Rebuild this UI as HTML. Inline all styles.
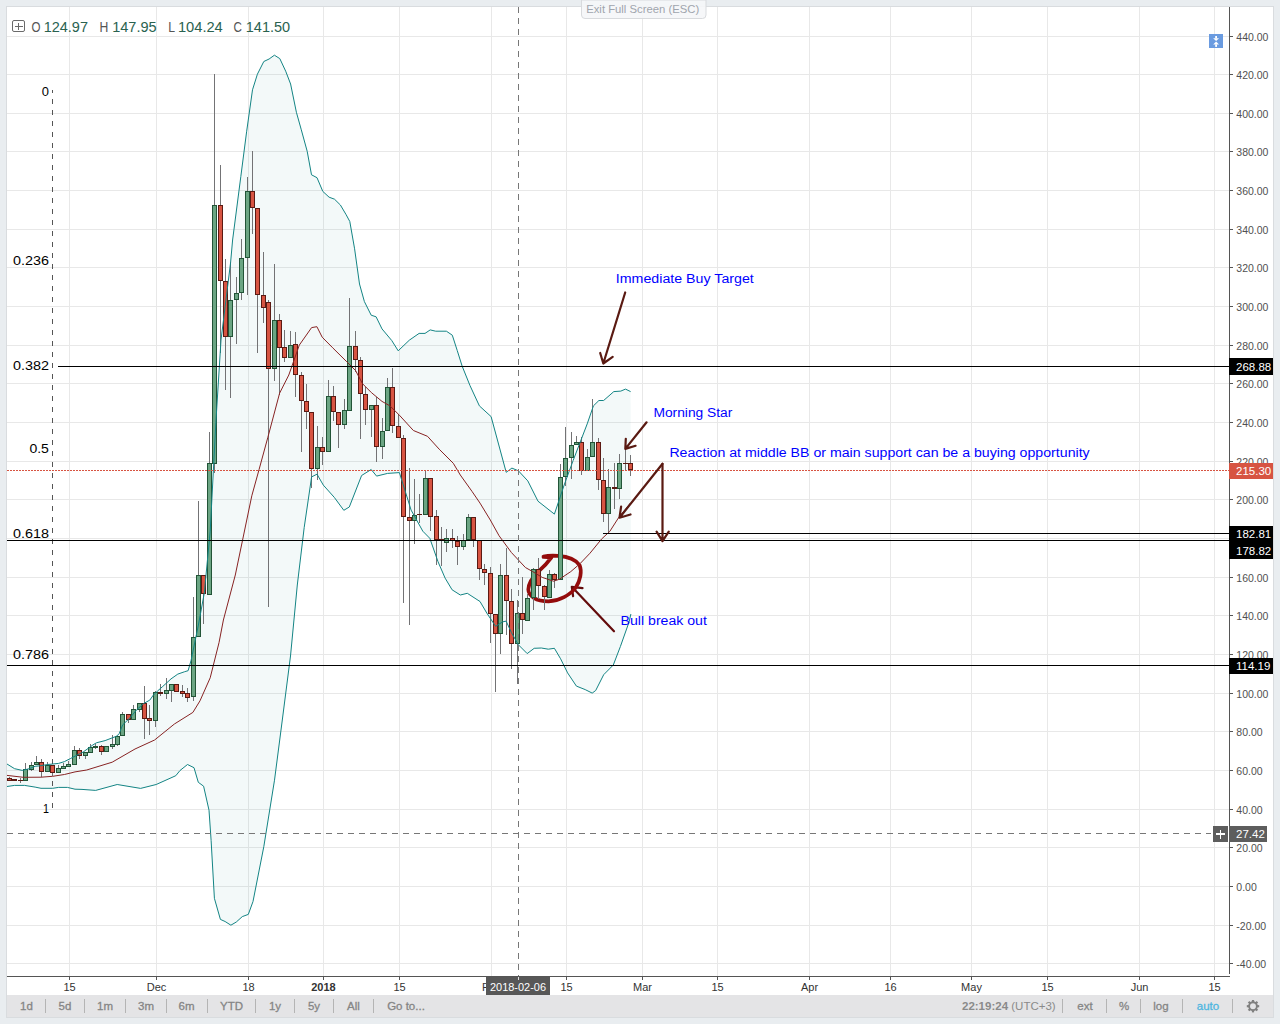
<!DOCTYPE html><html><head><meta charset="utf-8"><style>html,body{margin:0;padding:0;width:1280px;height:1024px;overflow:hidden;background:#e9edf0}svg{display:block;font-family:"Liberation Sans",sans-serif}</style></head><body>
<svg width="1280" height="1024" viewBox="0 0 1280 1024">
<rect x="0" y="0" width="1280" height="1024" fill="#e9edf0"/>
<rect x="6" y="6" width="1268" height="1012" fill="#d9dcdf"/>
<rect x="7" y="7" width="1266" height="1010" fill="#ffffff"/>
<rect x="7" y="995" width="1266" height="22" fill="#e4e4e6"/>
<g shape-rendering="crispEdges"><rect x="7" y="36" width="1222" height="1" fill="#e8e8e8"/><rect x="7" y="74" width="1222" height="1" fill="#e8e8e8"/><rect x="7" y="113" width="1222" height="1" fill="#e8e8e8"/><rect x="7" y="151" width="1222" height="1" fill="#e8e8e8"/><rect x="7" y="190" width="1222" height="1" fill="#e8e8e8"/><rect x="7" y="229" width="1222" height="1" fill="#e8e8e8"/><rect x="7" y="267" width="1222" height="1" fill="#e8e8e8"/><rect x="7" y="306" width="1222" height="1" fill="#e8e8e8"/><rect x="7" y="345" width="1222" height="1" fill="#e8e8e8"/><rect x="7" y="383" width="1222" height="1" fill="#e8e8e8"/><rect x="7" y="422" width="1222" height="1" fill="#e8e8e8"/><rect x="7" y="461" width="1222" height="1" fill="#e8e8e8"/><rect x="7" y="499" width="1222" height="1" fill="#e8e8e8"/><rect x="7" y="538" width="1222" height="1" fill="#e8e8e8"/><rect x="7" y="577" width="1222" height="1" fill="#e8e8e8"/><rect x="7" y="615" width="1222" height="1" fill="#e8e8e8"/><rect x="7" y="654" width="1222" height="1" fill="#e8e8e8"/><rect x="7" y="693" width="1222" height="1" fill="#e8e8e8"/><rect x="7" y="731" width="1222" height="1" fill="#e8e8e8"/><rect x="7" y="770" width="1222" height="1" fill="#e8e8e8"/><rect x="7" y="809" width="1222" height="1" fill="#e8e8e8"/><rect x="7" y="847" width="1222" height="1" fill="#e8e8e8"/><rect x="7" y="886" width="1222" height="1" fill="#e8e8e8"/><rect x="7" y="925" width="1222" height="1" fill="#e8e8e8"/><rect x="7" y="963" width="1222" height="1" fill="#e8e8e8"/><rect x="69" y="7" width="1" height="969" fill="#e8e8e8"/><rect x="156" y="7" width="1" height="969" fill="#e8e8e8"/><rect x="248" y="7" width="1" height="969" fill="#e8e8e8"/><rect x="323" y="7" width="1" height="969" fill="#e8e8e8"/><rect x="399" y="7" width="1" height="969" fill="#e8e8e8"/><rect x="491" y="7" width="1" height="969" fill="#e8e8e8"/><rect x="566" y="7" width="1" height="969" fill="#e8e8e8"/><rect x="642" y="7" width="1" height="969" fill="#e8e8e8"/><rect x="717" y="7" width="1" height="969" fill="#e8e8e8"/><rect x="809" y="7" width="1" height="969" fill="#e8e8e8"/><rect x="890" y="7" width="1" height="969" fill="#e8e8e8"/><rect x="971" y="7" width="1" height="969" fill="#e8e8e8"/><rect x="1047" y="7" width="1" height="969" fill="#e8e8e8"/><rect x="1139" y="7" width="1" height="969" fill="#e8e8e8"/><rect x="1214" y="7" width="1" height="969" fill="#e8e8e8"/></g>
<polygon points="7.0,764.0 14.6,768.7 22.3,770.4 29.3,768.7 35.1,766.3 41.0,765.7 46.9,764.6 52.7,764.0 58.6,763.4 64.4,761.6 70.3,758.6 83.2,752.0 92.8,745.0 96.4,742.8 105.1,740.6 116.6,736.2 119.2,733.6 122.7,724.8 130.0,717.8 136.8,709.6 143.7,703.5 149.8,700.1 153.2,695.3 157.3,691.2 162.8,686.4 171.0,678.9 177.8,674.1 184.7,671.7 188.1,670.7 191.1,660.3 198.4,625.1 204.3,592.9 210.2,531.3 216.0,420.0 221.0,340.0 230.6,262.4 232.6,240.0 240.8,176.7 246.6,131.8 252.5,89.8 257.4,74.2 263.8,61.5 269.1,59.0 274.4,55.2 279.8,58.6 285.7,71.2 290.6,84.0 296.4,112.3 301.3,129.8 307.2,151.3 311.5,174.8 317.0,177.7 322.8,191.4 329.1,197.2 334.5,199.2 340.4,205.0 346.2,214.8 349.8,221.5 354.6,248.8 359.5,284.0 364.4,301.6 371.2,315.2 376.1,316.8 382.0,328.9 391.8,340.6 398.2,350.8 409.3,340.2 419.1,333.4 425.0,333.4 430.2,329.9 435.7,331.2 446.4,331.2 452.3,335.2 457.2,350.4 462.1,366.0 470.0,385.6 479.4,405.9 491.1,416.6 506.2,472.3 511.9,468.1 518.4,470.8 527.8,480.9 538.0,501.2 554.4,514.1 564.5,484.0 573.1,460.6 587.2,423.9 593.4,405.9 598.9,400.5 603.6,400.5 613.8,391.6 620.8,391.1 625.5,389.1 630.6,391.6 630.9,614.0 629.1,621.9 620.4,646.5 613.3,665.0 603.7,674.7 595.7,690.5 592.2,693.1 585.2,689.6 576.4,686.1 567.6,672.9 560.6,658.8 554.4,648.3 548.3,649.2 541.3,648.0 534.2,648.3 527.2,653.6 518.4,644.8 511.4,632.5 506.1,621.1 502.6,621.9 495.6,626.3 486.8,613.1 480.0,601.5 467.3,593.3 460.3,595.0 452.1,589.8 445.1,578.1 438.0,561.7 429.8,538.3 422.8,531.2 411.1,510.1 399.4,472.6 387.6,473.4 376.6,476.1 371.2,469.5 361.6,475.5 349.3,507.0 343.8,510.3 334.3,497.4 323.3,485.1 317.0,474.2 311.6,476.9 304.2,527.5 297.3,585.0 290.5,656.0 282.3,720.0 274.5,780.2 263.8,846.7 253.0,901.5 248.3,914.4 242.3,916.6 236.3,922.0 230.9,925.2 225.1,921.5 220.4,919.4 214.4,898.3 211.1,840.3 209.0,810.2 203.6,786.2 198.3,782.3 194.0,767.7 187.5,764.5 180.0,770.5 175.8,775.7 156.2,784.5 140.6,788.4 117.2,784.5 95.7,790.4 82.0,789.4 75.0,789.2 67.4,787.4 58.6,787.4 52.7,788.3 41.0,788.3 35.1,787.1 24.6,785.4 14.6,785.4 7.0,786.5" fill="#198787" fill-opacity="0.05"/>
<path d="M614,631.25 L571.8,586.8 M582.5,588.1 L571.8,586.8 L573.1,596.25" fill="none" stroke="#640c0c" stroke-width="2.2" stroke-linecap="round" stroke-linejoin="round"/>
<path d="M543.5,557 L551.5,557.3 C549.5,560 544.5,566 539.6,570.3 C534,575.5 528.5,583 528.3,589.5 C528.5,596 536,601.3 548.55,601.47 C559.34,600.84 570.13,595.13 575.84,587.51 C580.28,580.53 582.18,571.65 579.64,565.3 C576.47,560.23 568.22,556.42 558.07,555.79 C551.73,555.34 546.65,555.79 543.5,556.5" fill="none" stroke="#940c0c" stroke-width="3.7" stroke-linecap="round" stroke-linejoin="round"/>
<line x1="52.5" y1="90" x2="52.5" y2="808" stroke="#555" stroke-width="1" stroke-dasharray="5.5 5.5" stroke-dashoffset="2.5" shape-rendering="crispEdges"/>
<g shape-rendering="crispEdges" clip-path="url(#chartclip)"><rect x="9" y="777" width="1" height="4" fill="#737375"/><rect x="7" y="778" width="5" height="3" fill="#5b1a13"/><rect x="8" y="779" width="3" height="1" fill="#d75442"/><rect x="14" y="779" width="1" height="2" fill="#737375"/><rect x="12" y="779" width="5" height="2" fill="#5b1a13"/><rect x="20" y="778" width="1" height="5" fill="#737375"/><rect x="18" y="780" width="5" height="1" fill="#5b1a13"/><rect x="25" y="763" width="1" height="18" fill="#737375"/><rect x="23" y="769" width="5" height="12" fill="#225437"/><rect x="24" y="770" width="3" height="10" fill="#6ba583"/><rect x="31" y="762" width="1" height="9" fill="#737375"/><rect x="29" y="765" width="5" height="5" fill="#225437"/><rect x="30" y="766" width="3" height="3" fill="#6ba583"/><rect x="36" y="756" width="1" height="9" fill="#737375"/><rect x="34" y="762" width="5" height="3" fill="#225437"/><rect x="35" y="763" width="3" height="1" fill="#6ba583"/><rect x="41" y="759" width="1" height="18" fill="#737375"/><rect x="39" y="762" width="5" height="10" fill="#5b1a13"/><rect x="40" y="763" width="3" height="8" fill="#d75442"/><rect x="47" y="762" width="1" height="10" fill="#737375"/><rect x="45" y="765" width="5" height="7" fill="#225437"/><rect x="46" y="766" width="3" height="5" fill="#6ba583"/><rect x="52" y="765" width="1" height="11" fill="#737375"/><rect x="50" y="765" width="5" height="8" fill="#5b1a13"/><rect x="51" y="766" width="3" height="6" fill="#d75442"/><rect x="58" y="765" width="1" height="8" fill="#737375"/><rect x="56" y="768" width="5" height="5" fill="#225437"/><rect x="57" y="769" width="3" height="3" fill="#6ba583"/><rect x="63" y="763" width="1" height="6" fill="#737375"/><rect x="61" y="766" width="5" height="3" fill="#225437"/><rect x="62" y="767" width="3" height="1" fill="#6ba583"/><rect x="68" y="761" width="1" height="6" fill="#737375"/><rect x="66" y="764" width="5" height="3" fill="#225437"/><rect x="67" y="765" width="3" height="1" fill="#6ba583"/><rect x="74" y="746" width="1" height="19" fill="#737375"/><rect x="72" y="750" width="5" height="15" fill="#225437"/><rect x="73" y="751" width="3" height="13" fill="#6ba583"/><rect x="79" y="748" width="1" height="11" fill="#737375"/><rect x="77" y="750" width="5" height="6" fill="#5b1a13"/><rect x="78" y="751" width="3" height="4" fill="#d75442"/><rect x="85" y="752" width="1" height="7" fill="#737375"/><rect x="83" y="752" width="5" height="4" fill="#225437"/><rect x="84" y="753" width="3" height="2" fill="#6ba583"/><rect x="90" y="744" width="1" height="9" fill="#737375"/><rect x="88" y="747" width="5" height="6" fill="#225437"/><rect x="89" y="748" width="3" height="4" fill="#6ba583"/><rect x="95" y="744" width="1" height="5" fill="#737375"/><rect x="93" y="746" width="5" height="2" fill="#225437"/><rect x="101" y="745" width="1" height="10" fill="#737375"/><rect x="99" y="746" width="5" height="6" fill="#5b1a13"/><rect x="100" y="747" width="3" height="4" fill="#d75442"/><rect x="106" y="746" width="1" height="6" fill="#737375"/><rect x="104" y="746" width="5" height="6" fill="#225437"/><rect x="105" y="747" width="3" height="4" fill="#6ba583"/><rect x="112" y="735" width="1" height="14" fill="#737375"/><rect x="110" y="744" width="5" height="3" fill="#225437"/><rect x="111" y="745" width="3" height="1" fill="#6ba583"/><rect x="117" y="736" width="1" height="10" fill="#737375"/><rect x="115" y="736" width="5" height="9" fill="#225437"/><rect x="116" y="737" width="3" height="7" fill="#6ba583"/><rect x="122" y="712" width="1" height="24" fill="#737375"/><rect x="120" y="714" width="5" height="22" fill="#225437"/><rect x="121" y="715" width="3" height="20" fill="#6ba583"/><rect x="128" y="714" width="1" height="9" fill="#737375"/><rect x="126" y="714" width="5" height="6" fill="#5b1a13"/><rect x="127" y="715" width="3" height="4" fill="#d75442"/><rect x="133" y="705" width="1" height="15" fill="#737375"/><rect x="131" y="709" width="5" height="11" fill="#225437"/><rect x="132" y="710" width="3" height="9" fill="#6ba583"/><rect x="139" y="703" width="1" height="9" fill="#737375"/><rect x="137" y="703" width="5" height="7" fill="#225437"/><rect x="138" y="704" width="3" height="5" fill="#6ba583"/><rect x="144" y="686" width="1" height="53" fill="#737375"/><rect x="142" y="703" width="5" height="16" fill="#5b1a13"/><rect x="143" y="704" width="3" height="14" fill="#d75442"/><rect x="149" y="705" width="1" height="30" fill="#737375"/><rect x="147" y="718" width="5" height="3" fill="#5b1a13"/><rect x="148" y="719" width="3" height="1" fill="#d75442"/><rect x="155" y="691" width="1" height="36" fill="#737375"/><rect x="153" y="692" width="5" height="29" fill="#225437"/><rect x="154" y="693" width="3" height="27" fill="#6ba583"/><rect x="160" y="684" width="1" height="12" fill="#737375"/><rect x="158" y="692" width="5" height="2" fill="#5b1a13"/><rect x="166" y="678" width="1" height="21" fill="#737375"/><rect x="164" y="690" width="5" height="4" fill="#225437"/><rect x="165" y="691" width="3" height="2" fill="#6ba583"/><rect x="171" y="684" width="1" height="18" fill="#737375"/><rect x="169" y="684" width="5" height="7" fill="#225437"/><rect x="170" y="685" width="3" height="5" fill="#6ba583"/><rect x="176" y="684" width="1" height="8" fill="#737375"/><rect x="174" y="684" width="5" height="8" fill="#5b1a13"/><rect x="175" y="685" width="3" height="6" fill="#d75442"/><rect x="182" y="685" width="1" height="12" fill="#737375"/><rect x="180" y="691" width="5" height="3" fill="#5b1a13"/><rect x="181" y="692" width="3" height="1" fill="#d75442"/><rect x="187" y="688" width="1" height="14" fill="#737375"/><rect x="185" y="693" width="5" height="5" fill="#5b1a13"/><rect x="186" y="694" width="3" height="3" fill="#d75442"/><rect x="193" y="597" width="1" height="104" fill="#737375"/><rect x="191" y="637" width="5" height="60" fill="#225437"/><rect x="192" y="638" width="3" height="58" fill="#6ba583"/><rect x="198" y="501" width="1" height="136" fill="#737375"/><rect x="196" y="575" width="5" height="62" fill="#225437"/><rect x="197" y="576" width="3" height="60" fill="#6ba583"/><rect x="203" y="575" width="1" height="49" fill="#737375"/><rect x="201" y="575" width="5" height="19" fill="#5b1a13"/><rect x="202" y="576" width="3" height="17" fill="#d75442"/><rect x="209" y="432" width="1" height="163" fill="#737375"/><rect x="207" y="463" width="5" height="132" fill="#225437"/><rect x="208" y="464" width="3" height="130" fill="#6ba583"/><rect x="214" y="74" width="1" height="399" fill="#737375"/><rect x="212" y="205" width="5" height="259" fill="#225437"/><rect x="213" y="206" width="3" height="257" fill="#6ba583"/><rect x="220" y="165" width="1" height="188" fill="#737375"/><rect x="218" y="205" width="5" height="76" fill="#5b1a13"/><rect x="219" y="206" width="3" height="74" fill="#d75442"/><rect x="225" y="259" width="1" height="131" fill="#737375"/><rect x="223" y="281" width="5" height="56" fill="#5b1a13"/><rect x="224" y="282" width="3" height="54" fill="#d75442"/><rect x="230" y="262" width="1" height="136" fill="#737375"/><rect x="228" y="300" width="5" height="37" fill="#225437"/><rect x="229" y="301" width="3" height="35" fill="#6ba583"/><rect x="236" y="277" width="1" height="67" fill="#737375"/><rect x="234" y="293" width="5" height="7" fill="#225437"/><rect x="235" y="294" width="3" height="5" fill="#6ba583"/><rect x="241" y="239" width="1" height="61" fill="#737375"/><rect x="239" y="258" width="5" height="35" fill="#225437"/><rect x="240" y="259" width="3" height="33" fill="#6ba583"/><rect x="247" y="177" width="1" height="118" fill="#737375"/><rect x="245" y="191" width="5" height="67" fill="#225437"/><rect x="246" y="192" width="3" height="65" fill="#6ba583"/><rect x="252" y="151" width="1" height="83" fill="#737375"/><rect x="250" y="191" width="5" height="17" fill="#5b1a13"/><rect x="251" y="192" width="3" height="15" fill="#d75442"/><rect x="257" y="208" width="1" height="145" fill="#737375"/><rect x="255" y="208" width="5" height="87" fill="#5b1a13"/><rect x="256" y="209" width="3" height="85" fill="#d75442"/><rect x="263" y="252" width="1" height="71" fill="#737375"/><rect x="261" y="295" width="5" height="13" fill="#5b1a13"/><rect x="262" y="296" width="3" height="11" fill="#d75442"/><rect x="268" y="300" width="1" height="307" fill="#737375"/><rect x="266" y="302" width="5" height="67" fill="#5b1a13"/><rect x="267" y="303" width="3" height="65" fill="#d75442"/><rect x="274" y="264" width="1" height="117" fill="#737375"/><rect x="272" y="320" width="5" height="49" fill="#225437"/><rect x="273" y="321" width="3" height="47" fill="#6ba583"/><rect x="279" y="314" width="1" height="81" fill="#737375"/><rect x="277" y="320" width="5" height="28" fill="#5b1a13"/><rect x="278" y="321" width="3" height="26" fill="#d75442"/><rect x="284" y="330" width="1" height="32" fill="#737375"/><rect x="282" y="347" width="5" height="11" fill="#5b1a13"/><rect x="283" y="348" width="3" height="9" fill="#d75442"/><rect x="290" y="331" width="1" height="27" fill="#737375"/><rect x="288" y="345" width="5" height="13" fill="#225437"/><rect x="289" y="346" width="3" height="11" fill="#6ba583"/><rect x="295" y="332" width="1" height="65" fill="#737375"/><rect x="293" y="344" width="5" height="31" fill="#5b1a13"/><rect x="294" y="345" width="3" height="29" fill="#d75442"/><rect x="301" y="372" width="1" height="80" fill="#737375"/><rect x="299" y="375" width="5" height="26" fill="#5b1a13"/><rect x="300" y="376" width="3" height="24" fill="#d75442"/><rect x="306" y="384" width="1" height="45" fill="#737375"/><rect x="304" y="401" width="5" height="11" fill="#5b1a13"/><rect x="305" y="402" width="3" height="9" fill="#d75442"/><rect x="311" y="412" width="1" height="76" fill="#737375"/><rect x="309" y="412" width="5" height="57" fill="#5b1a13"/><rect x="310" y="413" width="3" height="55" fill="#d75442"/><rect x="317" y="426" width="1" height="54" fill="#737375"/><rect x="315" y="447" width="5" height="22" fill="#225437"/><rect x="316" y="448" width="3" height="20" fill="#6ba583"/><rect x="322" y="437" width="1" height="28" fill="#737375"/><rect x="320" y="447" width="5" height="5" fill="#5b1a13"/><rect x="321" y="448" width="3" height="3" fill="#d75442"/><rect x="328" y="380" width="1" height="72" fill="#737375"/><rect x="326" y="396" width="5" height="56" fill="#225437"/><rect x="327" y="397" width="3" height="54" fill="#6ba583"/><rect x="333" y="386" width="1" height="35" fill="#737375"/><rect x="331" y="396" width="5" height="16" fill="#5b1a13"/><rect x="332" y="397" width="3" height="14" fill="#d75442"/><rect x="338" y="412" width="1" height="36" fill="#737375"/><rect x="336" y="412" width="5" height="13" fill="#5b1a13"/><rect x="337" y="413" width="3" height="11" fill="#d75442"/><rect x="344" y="399" width="1" height="30" fill="#737375"/><rect x="342" y="410" width="5" height="15" fill="#225437"/><rect x="343" y="411" width="3" height="13" fill="#6ba583"/><rect x="349" y="298" width="1" height="113" fill="#737375"/><rect x="347" y="346" width="5" height="65" fill="#225437"/><rect x="348" y="347" width="3" height="63" fill="#6ba583"/><rect x="355" y="331" width="1" height="41" fill="#737375"/><rect x="353" y="346" width="5" height="14" fill="#5b1a13"/><rect x="354" y="347" width="3" height="12" fill="#d75442"/><rect x="360" y="357" width="1" height="82" fill="#737375"/><rect x="358" y="360" width="5" height="34" fill="#5b1a13"/><rect x="359" y="361" width="3" height="32" fill="#d75442"/><rect x="365" y="387" width="1" height="38" fill="#737375"/><rect x="363" y="394" width="5" height="16" fill="#5b1a13"/><rect x="364" y="395" width="3" height="14" fill="#d75442"/><rect x="371" y="405" width="1" height="32" fill="#737375"/><rect x="369" y="405" width="5" height="5" fill="#225437"/><rect x="370" y="406" width="3" height="3" fill="#6ba583"/><rect x="376" y="397" width="1" height="65" fill="#737375"/><rect x="374" y="405" width="5" height="42" fill="#5b1a13"/><rect x="375" y="406" width="3" height="40" fill="#d75442"/><rect x="382" y="418" width="1" height="41" fill="#737375"/><rect x="380" y="431" width="5" height="16" fill="#225437"/><rect x="381" y="432" width="3" height="14" fill="#6ba583"/><rect x="387" y="378" width="1" height="53" fill="#737375"/><rect x="385" y="387" width="5" height="44" fill="#225437"/><rect x="386" y="388" width="3" height="42" fill="#6ba583"/><rect x="392" y="368" width="1" height="65" fill="#737375"/><rect x="390" y="387" width="5" height="39" fill="#5b1a13"/><rect x="391" y="388" width="3" height="37" fill="#d75442"/><rect x="398" y="414" width="1" height="24" fill="#737375"/><rect x="396" y="426" width="5" height="12" fill="#5b1a13"/><rect x="397" y="427" width="3" height="10" fill="#d75442"/><rect x="403" y="435" width="1" height="168" fill="#737375"/><rect x="401" y="438" width="5" height="79" fill="#5b1a13"/><rect x="402" y="439" width="3" height="77" fill="#d75442"/><rect x="409" y="468" width="1" height="157" fill="#737375"/><rect x="407" y="517" width="5" height="4" fill="#5b1a13"/><rect x="408" y="518" width="3" height="2" fill="#d75442"/><rect x="414" y="479" width="1" height="65" fill="#737375"/><rect x="412" y="515" width="5" height="6" fill="#225437"/><rect x="413" y="516" width="3" height="4" fill="#6ba583"/><rect x="419" y="494" width="1" height="29" fill="#737375"/><rect x="417" y="514" width="5" height="1" fill="#5b1a13"/><rect x="425" y="470" width="1" height="45" fill="#737375"/><rect x="423" y="478" width="5" height="37" fill="#225437"/><rect x="424" y="479" width="3" height="35" fill="#6ba583"/><rect x="430" y="478" width="1" height="53" fill="#737375"/><rect x="428" y="478" width="5" height="39" fill="#5b1a13"/><rect x="429" y="479" width="3" height="37" fill="#d75442"/><rect x="436" y="510" width="1" height="55" fill="#737375"/><rect x="434" y="516" width="5" height="24" fill="#5b1a13"/><rect x="435" y="517" width="3" height="22" fill="#d75442"/><rect x="441" y="527" width="1" height="39" fill="#737375"/><rect x="439" y="539" width="5" height="2" fill="#5b1a13"/><rect x="446" y="529" width="1" height="23" fill="#737375"/><rect x="444" y="538" width="5" height="5" fill="#225437"/><rect x="445" y="539" width="3" height="3" fill="#6ba583"/><rect x="452" y="529" width="1" height="19" fill="#737375"/><rect x="450" y="538" width="5" height="3" fill="#5b1a13"/><rect x="451" y="539" width="3" height="1" fill="#d75442"/><rect x="457" y="536" width="1" height="29" fill="#737375"/><rect x="455" y="541" width="5" height="6" fill="#5b1a13"/><rect x="456" y="542" width="3" height="4" fill="#d75442"/><rect x="463" y="534" width="1" height="16" fill="#737375"/><rect x="461" y="540" width="5" height="7" fill="#225437"/><rect x="462" y="541" width="3" height="5" fill="#6ba583"/><rect x="468" y="514" width="1" height="26" fill="#737375"/><rect x="466" y="517" width="5" height="23" fill="#225437"/><rect x="467" y="518" width="3" height="21" fill="#6ba583"/><rect x="473" y="517" width="1" height="30" fill="#737375"/><rect x="471" y="517" width="5" height="23" fill="#5b1a13"/><rect x="472" y="518" width="3" height="21" fill="#d75442"/><rect x="479" y="540" width="1" height="40" fill="#737375"/><rect x="477" y="540" width="5" height="29" fill="#5b1a13"/><rect x="478" y="541" width="3" height="27" fill="#d75442"/><rect x="484" y="564" width="1" height="21" fill="#737375"/><rect x="482" y="569" width="5" height="4" fill="#5b1a13"/><rect x="483" y="570" width="3" height="2" fill="#d75442"/><rect x="490" y="567" width="1" height="76" fill="#737375"/><rect x="488" y="573" width="5" height="41" fill="#5b1a13"/><rect x="489" y="574" width="3" height="39" fill="#d75442"/><rect x="495" y="614" width="1" height="78" fill="#737375"/><rect x="493" y="614" width="5" height="20" fill="#5b1a13"/><rect x="494" y="615" width="3" height="18" fill="#d75442"/><rect x="500" y="564" width="1" height="90" fill="#737375"/><rect x="498" y="575" width="5" height="59" fill="#225437"/><rect x="499" y="576" width="3" height="57" fill="#6ba583"/><rect x="506" y="548" width="1" height="87" fill="#737375"/><rect x="504" y="575" width="5" height="26" fill="#5b1a13"/><rect x="505" y="576" width="3" height="24" fill="#d75442"/><rect x="511" y="589" width="1" height="80" fill="#737375"/><rect x="509" y="601" width="5" height="43" fill="#5b1a13"/><rect x="510" y="602" width="3" height="41" fill="#d75442"/><rect x="517" y="600" width="1" height="84" fill="#737375"/><rect x="515" y="613" width="5" height="31" fill="#225437"/><rect x="516" y="614" width="3" height="29" fill="#6ba583"/><rect x="522" y="577" width="1" height="57" fill="#737375"/><rect x="520" y="613" width="5" height="7" fill="#5b1a13"/><rect x="521" y="614" width="3" height="5" fill="#d75442"/><rect x="527" y="594" width="1" height="27" fill="#737375"/><rect x="525" y="598" width="5" height="23" fill="#225437"/><rect x="526" y="599" width="3" height="21" fill="#6ba583"/><rect x="533" y="568" width="1" height="42" fill="#737375"/><rect x="531" y="569" width="5" height="29" fill="#225437"/><rect x="532" y="570" width="3" height="27" fill="#6ba583"/><rect x="538" y="558" width="1" height="41" fill="#737375"/><rect x="536" y="569" width="5" height="17" fill="#5b1a13"/><rect x="537" y="570" width="3" height="15" fill="#d75442"/><rect x="544" y="585" width="1" height="25" fill="#737375"/><rect x="542" y="586" width="5" height="11" fill="#5b1a13"/><rect x="543" y="587" width="3" height="9" fill="#d75442"/><rect x="549" y="570" width="1" height="28" fill="#737375"/><rect x="547" y="574" width="5" height="24" fill="#225437"/><rect x="548" y="575" width="3" height="22" fill="#6ba583"/><rect x="554" y="573" width="1" height="15" fill="#737375"/><rect x="552" y="574" width="5" height="6" fill="#5b1a13"/><rect x="553" y="575" width="3" height="4" fill="#d75442"/><rect x="560" y="464" width="1" height="116" fill="#737375"/><rect x="558" y="477" width="5" height="103" fill="#225437"/><rect x="559" y="478" width="3" height="101" fill="#6ba583"/><rect x="565" y="427" width="1" height="59" fill="#737375"/><rect x="563" y="458" width="5" height="19" fill="#225437"/><rect x="564" y="459" width="3" height="17" fill="#6ba583"/><rect x="571" y="432" width="1" height="47" fill="#737375"/><rect x="569" y="445" width="5" height="13" fill="#225437"/><rect x="570" y="446" width="3" height="11" fill="#6ba583"/><rect x="576" y="436" width="1" height="9" fill="#737375"/><rect x="574" y="442" width="5" height="3" fill="#225437"/><rect x="575" y="443" width="3" height="1" fill="#6ba583"/><rect x="581" y="437" width="1" height="38" fill="#737375"/><rect x="579" y="442" width="5" height="29" fill="#5b1a13"/><rect x="580" y="443" width="3" height="27" fill="#d75442"/><rect x="587" y="449" width="1" height="22" fill="#737375"/><rect x="585" y="457" width="5" height="14" fill="#225437"/><rect x="586" y="458" width="3" height="12" fill="#6ba583"/><rect x="592" y="399" width="1" height="58" fill="#737375"/><rect x="590" y="442" width="5" height="15" fill="#225437"/><rect x="591" y="443" width="3" height="13" fill="#6ba583"/><rect x="598" y="438" width="1" height="52" fill="#737375"/><rect x="596" y="442" width="5" height="38" fill="#5b1a13"/><rect x="597" y="443" width="3" height="36" fill="#d75442"/><rect x="603" y="458" width="1" height="64" fill="#737375"/><rect x="601" y="480" width="5" height="34" fill="#5b1a13"/><rect x="602" y="481" width="3" height="32" fill="#d75442"/><rect x="608" y="469" width="1" height="64" fill="#737375"/><rect x="606" y="487" width="5" height="27" fill="#225437"/><rect x="607" y="488" width="3" height="25" fill="#6ba583"/><rect x="614" y="463" width="1" height="46" fill="#737375"/><rect x="612" y="487" width="5" height="2" fill="#5b1a13"/><rect x="619" y="454" width="1" height="45" fill="#737375"/><rect x="617" y="463" width="5" height="26" fill="#225437"/><rect x="618" y="464" width="3" height="24" fill="#6ba583"/><rect x="625" y="438" width="1" height="33" fill="#737375"/><rect x="623" y="463" width="5" height="1" fill="#5b1a13"/><rect x="630" y="455" width="1" height="21" fill="#737375"/><rect x="628" y="463" width="5" height="7" fill="#5b1a13"/><rect x="629" y="464" width="3" height="5" fill="#d75442"/></g>
<defs><clipPath id="chartclip"><rect x="7" y="7" width="1222" height="969"/></clipPath></defs>
<polyline points="7.0,764.0 14.6,768.7 22.3,770.4 29.3,768.7 35.1,766.3 41.0,765.7 46.9,764.6 52.7,764.0 58.6,763.4 64.4,761.6 70.3,758.6 83.2,752.0 92.8,745.0 96.4,742.8 105.1,740.6 116.6,736.2 119.2,733.6 122.7,724.8 130.0,717.8 136.8,709.6 143.7,703.5 149.8,700.1 153.2,695.3 157.3,691.2 162.8,686.4 171.0,678.9 177.8,674.1 184.7,671.7 188.1,670.7 191.1,660.3 198.4,625.1 204.3,592.9 210.2,531.3 216.0,420.0 221.0,340.0 230.6,262.4 232.6,240.0 240.8,176.7 246.6,131.8 252.5,89.8 257.4,74.2 263.8,61.5 269.1,59.0 274.4,55.2 279.8,58.6 285.7,71.2 290.6,84.0 296.4,112.3 301.3,129.8 307.2,151.3 311.5,174.8 317.0,177.7 322.8,191.4 329.1,197.2 334.5,199.2 340.4,205.0 346.2,214.8 349.8,221.5 354.6,248.8 359.5,284.0 364.4,301.6 371.2,315.2 376.1,316.8 382.0,328.9 391.8,340.6 398.2,350.8 409.3,340.2 419.1,333.4 425.0,333.4 430.2,329.9 435.7,331.2 446.4,331.2 452.3,335.2 457.2,350.4 462.1,366.0 470.0,385.6 479.4,405.9 491.1,416.6 506.2,472.3 511.9,468.1 518.4,470.8 527.8,480.9 538.0,501.2 554.4,514.1 564.5,484.0 573.1,460.6 587.2,423.9 593.4,405.9 598.9,400.5 603.6,400.5 613.8,391.6 620.8,391.1 625.5,389.1 630.6,391.6" fill="none" stroke="#138484" stroke-width="1"/>
<polyline points="7.0,786.5 14.6,785.4 24.6,785.4 35.1,787.1 41.0,788.3 52.7,788.3 58.6,787.4 67.4,787.4 75.0,789.2 82.0,789.4 95.7,790.4 117.2,784.5 140.6,788.4 156.2,784.5 175.8,775.7 180.0,770.5 187.5,764.5 194.0,767.7 198.3,782.3 203.6,786.2 209.0,810.2 211.1,840.3 214.4,898.3 220.4,919.4 225.1,921.5 230.9,925.2 236.3,922.0 242.3,916.6 248.3,914.4 253.0,901.5 263.8,846.7 274.5,780.2 282.3,720.0 290.5,656.0 297.3,585.0 304.2,527.5 311.6,476.9 317.0,474.2 323.3,485.1 334.3,497.4 343.8,510.3 349.3,507.0 361.6,475.5 371.2,469.5 376.6,476.1 387.6,473.4 399.4,472.6 411.1,510.1 422.8,531.2 429.8,538.3 438.0,561.7 445.1,578.1 452.1,589.8 460.3,595.0 467.3,593.3 480.0,601.5 486.8,613.1 495.6,626.3 502.6,621.9 506.1,621.1 511.4,632.5 518.4,644.8 527.2,653.6 534.2,648.3 541.3,648.0 548.3,649.2 554.4,648.3 560.6,658.8 567.6,672.9 576.4,686.1 585.2,689.6 592.2,693.1 595.7,690.5 603.7,674.7 613.3,665.0 620.4,646.5 629.1,621.9 630.9,614.0" fill="none" stroke="#138484" stroke-width="1"/>
<polyline points="7.0,775.4 23.4,777.3 41.0,777.2 52.7,776.3 64.4,774.5 75.0,771.9 86.7,770.0 112.2,762.2 135.0,749.0 154.6,740.0 174.4,724.0 192.9,712.4 200.0,700.8 210.2,677.8 219.0,642.7 223.4,620.0 235.3,575.0 251.8,495.8 259.1,469.4 267.9,437.2 279.6,393.2 288.8,375.0 299.3,345.1 311.6,327.6 316.9,326.7 322.2,337.2 332.7,347.8 346.8,361.8 355.6,370.6 362.6,383.8 371.4,392.6 382.0,401.4 390.0,405.9 399.4,415.2 413.4,430.5 427.5,436.3 439.2,449.2 453.3,463.3 460.3,475.0 472.0,491.4 480.0,503.1 490.3,520.0 499.1,535.8 511.4,552.5 525.4,567.5 532.7,571.6 542.2,577.4 553.6,581.2 559.3,579.3 570.8,571.6 580.3,563.4 590.0,553.2 601.6,539.0 609.8,531.4 618.7,517.5 630.5,503.0" fill="none" stroke="#872323" stroke-width="1"/>
<g shape-rendering="crispEdges"><rect x="58" y="366" width="1171" height="1" fill="#000"/><rect x="603" y="533" width="626" height="1" fill="#000"/><rect x="7" y="540" width="1222" height="1" fill="#000"/><rect x="7" y="665" width="1222" height="1" fill="#000"/></g>
<line x1="7" y1="470.5" x2="1229" y2="470.5" stroke="#d75442" stroke-width="1" stroke-dasharray="2 1" shape-rendering="crispEdges"/>
<line x1="7" y1="833.5" x2="1211" y2="833.5" stroke="#777" stroke-width="1" stroke-dasharray="6 5" shape-rendering="crispEdges"/>
<line x1="518.5" y1="7" x2="518.5" y2="976" stroke="#777" stroke-width="1" stroke-dasharray="6 5" shape-rendering="crispEdges"/>
<text x="48.9" y="95.5" font-size="13" fill="#000" text-anchor="end" textLength="7.2" lengthAdjust="spacingAndGlyphs">0</text>
<text x="48.9" y="264.9" font-size="13" fill="#000" text-anchor="end" textLength="36" lengthAdjust="spacingAndGlyphs">0.236</text>
<text x="48.9" y="369.5" font-size="13" fill="#000" text-anchor="end" textLength="36" lengthAdjust="spacingAndGlyphs">0.382</text>
<text x="48.9" y="453.3" font-size="13" fill="#000" text-anchor="end" textLength="19.5" lengthAdjust="spacingAndGlyphs">0.5</text>
<text x="48.9" y="537.7" font-size="13" fill="#000" text-anchor="end" textLength="36" lengthAdjust="spacingAndGlyphs">0.618</text>
<text x="48.9" y="658.5" font-size="13" fill="#000" text-anchor="end" textLength="36" lengthAdjust="spacingAndGlyphs">0.786</text>
<text x="48.9" y="812.9" font-size="13" fill="#000" text-anchor="end" textLength="6.0" lengthAdjust="spacingAndGlyphs">1</text>
<path d="M625.2,292.5 L603.3,363.5 M600.2,353 L603.3,363.5 L612.7,356.9" fill="none" stroke="#5a1a12" stroke-width="2.2" stroke-linecap="round" stroke-linejoin="round"/>
<path d="M646.6,422.3 L625.3,448.9 M625.8,438.75 L625.3,448.9 L635.6,445.8" fill="none" stroke="#5a1a12" stroke-width="2.2" stroke-linecap="round" stroke-linejoin="round"/>
<path d="M662.5,463.75 L619.5,517.7 M621.1,506.7 L619.5,517.7 L630.5,514.5" fill="none" stroke="#5a1a12" stroke-width="2.2" stroke-linecap="round" stroke-linejoin="round"/>
<path d="M662.5,463.75 L662.5,541.1 M656.6,531.7 L662.5,541.1 L668.75,531.7" fill="none" stroke="#5a1a12" stroke-width="2.2" stroke-linecap="round" stroke-linejoin="round"/>
<text x="615.8" y="283.1" font-size="12.5" fill="#0000ff" textLength="138" lengthAdjust="spacingAndGlyphs">Immediate Buy Target</text>
<text x="653.4" y="416.9" font-size="12.5" fill="#0000ff" textLength="79" lengthAdjust="spacingAndGlyphs">Morning Star</text>
<text x="669.4" y="456.7" font-size="12.5" fill="#0000ff" textLength="420.3" lengthAdjust="spacingAndGlyphs">Reaction at middle BB or main support can be a buying opportunity</text>
<text x="620.6" y="625" font-size="12.5" fill="#0000ff" textLength="86.3" lengthAdjust="spacingAndGlyphs">Bull break out</text>
<g shape-rendering="crispEdges"><rect x="1229" y="7" width="1" height="967" fill="#555"/><rect x="1230" y="36" width="3" height="1" fill="#555"/><rect x="1230" y="74" width="3" height="1" fill="#555"/><rect x="1230" y="113" width="3" height="1" fill="#555"/><rect x="1230" y="151" width="3" height="1" fill="#555"/><rect x="1230" y="190" width="3" height="1" fill="#555"/><rect x="1230" y="229" width="3" height="1" fill="#555"/><rect x="1230" y="267" width="3" height="1" fill="#555"/><rect x="1230" y="306" width="3" height="1" fill="#555"/><rect x="1230" y="345" width="3" height="1" fill="#555"/><rect x="1230" y="383" width="3" height="1" fill="#555"/><rect x="1230" y="422" width="3" height="1" fill="#555"/><rect x="1230" y="461" width="3" height="1" fill="#555"/><rect x="1230" y="499" width="3" height="1" fill="#555"/><rect x="1230" y="538" width="3" height="1" fill="#555"/><rect x="1230" y="577" width="3" height="1" fill="#555"/><rect x="1230" y="615" width="3" height="1" fill="#555"/><rect x="1230" y="654" width="3" height="1" fill="#555"/><rect x="1230" y="693" width="3" height="1" fill="#555"/><rect x="1230" y="731" width="3" height="1" fill="#555"/><rect x="1230" y="770" width="3" height="1" fill="#555"/><rect x="1230" y="809" width="3" height="1" fill="#555"/><rect x="1230" y="847" width="3" height="1" fill="#555"/><rect x="1230" y="886" width="3" height="1" fill="#555"/><rect x="1230" y="925" width="3" height="1" fill="#555"/><rect x="1230" y="963" width="3" height="1" fill="#555"/></g>
<text x="1236.3" y="40.5" font-size="11" fill="#505050" textLength="32.12" lengthAdjust="spacingAndGlyphs">440.00</text>
<text x="1236.3" y="78.5" font-size="11" fill="#505050" textLength="32.12" lengthAdjust="spacingAndGlyphs">420.00</text>
<text x="1236.3" y="117.5" font-size="11" fill="#505050" textLength="32.12" lengthAdjust="spacingAndGlyphs">400.00</text>
<text x="1236.3" y="155.5" font-size="11" fill="#505050" textLength="32.12" lengthAdjust="spacingAndGlyphs">380.00</text>
<text x="1236.3" y="194.5" font-size="11" fill="#505050" textLength="32.12" lengthAdjust="spacingAndGlyphs">360.00</text>
<text x="1236.3" y="233.5" font-size="11" fill="#505050" textLength="32.12" lengthAdjust="spacingAndGlyphs">340.00</text>
<text x="1236.3" y="271.5" font-size="11" fill="#505050" textLength="32.12" lengthAdjust="spacingAndGlyphs">320.00</text>
<text x="1236.3" y="310.5" font-size="11" fill="#505050" textLength="32.12" lengthAdjust="spacingAndGlyphs">300.00</text>
<text x="1236.3" y="349.5" font-size="11" fill="#505050" textLength="32.12" lengthAdjust="spacingAndGlyphs">280.00</text>
<text x="1236.3" y="387.5" font-size="11" fill="#505050" textLength="32.12" lengthAdjust="spacingAndGlyphs">260.00</text>
<text x="1236.3" y="426.5" font-size="11" fill="#505050" textLength="32.12" lengthAdjust="spacingAndGlyphs">240.00</text>
<text x="1236.3" y="465.5" font-size="11" fill="#505050" textLength="32.12" lengthAdjust="spacingAndGlyphs">220.00</text>
<text x="1236.3" y="503.5" font-size="11" fill="#505050" textLength="32.12" lengthAdjust="spacingAndGlyphs">200.00</text>
<text x="1236.3" y="542.5" font-size="11" fill="#505050" textLength="32.12" lengthAdjust="spacingAndGlyphs">180.00</text>
<text x="1236.3" y="581.5" font-size="11" fill="#505050" textLength="32.12" lengthAdjust="spacingAndGlyphs">160.00</text>
<text x="1236.3" y="619.5" font-size="11" fill="#505050" textLength="32.12" lengthAdjust="spacingAndGlyphs">140.00</text>
<text x="1236.3" y="658.5" font-size="11" fill="#505050" textLength="32.12" lengthAdjust="spacingAndGlyphs">120.00</text>
<text x="1236.3" y="697.5" font-size="11" fill="#505050" textLength="32.12" lengthAdjust="spacingAndGlyphs">100.00</text>
<text x="1236.3" y="735.5" font-size="11" fill="#505050" textLength="26.28" lengthAdjust="spacingAndGlyphs">80.00</text>
<text x="1236.3" y="774.5" font-size="11" fill="#505050" textLength="26.28" lengthAdjust="spacingAndGlyphs">60.00</text>
<text x="1236.3" y="813.5" font-size="11" fill="#505050" textLength="26.28" lengthAdjust="spacingAndGlyphs">40.00</text>
<text x="1236.3" y="851.5" font-size="11" fill="#505050" textLength="26.28" lengthAdjust="spacingAndGlyphs">20.00</text>
<text x="1236.3" y="890.5" font-size="11" fill="#505050" textLength="20.44" lengthAdjust="spacingAndGlyphs">0.00</text>
<text x="1236.3" y="929.5" font-size="11" fill="#505050" textLength="29.78" lengthAdjust="spacingAndGlyphs">-20.00</text>
<text x="1236.3" y="967.5" font-size="11" fill="#505050" textLength="29.78" lengthAdjust="spacingAndGlyphs">-40.00</text>
<rect x="1229" y="358" width="44" height="17" fill="#000" shape-rendering="crispEdges"/><text x="1236" y="370.5" font-size="11.5" fill="#fff">268.88</text>
<rect x="1229" y="463" width="44" height="16" fill="#d75442" shape-rendering="crispEdges"/><text x="1236" y="475.0" font-size="11.5" fill="#fff">215.30</text>
<rect x="1229" y="526" width="44" height="16" fill="#000" shape-rendering="crispEdges"/><text x="1236" y="538.0" font-size="11.5" fill="#fff">182.81</text>
<rect x="1229" y="542" width="44" height="17" fill="#000" shape-rendering="crispEdges"/><text x="1236" y="554.5" font-size="11.5" fill="#fff">178.82</text>
<rect x="1229" y="658" width="44" height="16" fill="#000" shape-rendering="crispEdges"/><text x="1236" y="670.0" font-size="11.5" fill="#fff">114.19</text>
<rect x="1229" y="826" width="38" height="16" fill="#5d5d5d" shape-rendering="crispEdges"/><text x="1236" y="838.0" font-size="11.5" fill="#fff">27.42</text>
<rect x="1213" y="826" width="15" height="16" fill="#5d5d5d"/>
<path d="M1220.5,829.5 V838.5 M1216,834 H1225" stroke="#fff" stroke-width="1.2" shape-rendering="crispEdges"/>
<g shape-rendering="crispEdges"><rect x="7" y="976" width="1223" height="1" fill="#555"/><rect x="69" y="977" width="1" height="3" fill="#555"/><rect x="156" y="977" width="1" height="3" fill="#555"/><rect x="248" y="977" width="1" height="3" fill="#555"/><rect x="323" y="977" width="1" height="3" fill="#555"/><rect x="399" y="977" width="1" height="3" fill="#555"/><rect x="491" y="977" width="1" height="3" fill="#555"/><rect x="566" y="977" width="1" height="3" fill="#555"/><rect x="642" y="977" width="1" height="3" fill="#555"/><rect x="717" y="977" width="1" height="3" fill="#555"/><rect x="809" y="977" width="1" height="3" fill="#555"/><rect x="890" y="977" width="1" height="3" fill="#555"/><rect x="971" y="977" width="1" height="3" fill="#555"/><rect x="1047" y="977" width="1" height="3" fill="#555"/><rect x="1139" y="977" width="1" height="3" fill="#555"/><rect x="1214" y="977" width="1" height="3" fill="#555"/></g>
<text x="69.5" y="991" font-size="11" fill="#333" text-anchor="middle">15</text>
<text x="156.5" y="991" font-size="11" fill="#333" text-anchor="middle">Dec</text>
<text x="248.5" y="991" font-size="11" fill="#333" text-anchor="middle">18</text>
<text x="323.5" y="991" font-size="11" fill="#333" text-anchor="middle" font-weight="bold">2018</text>
<text x="399.5" y="991" font-size="11" fill="#333" text-anchor="middle">15</text>
<text x="566.5" y="991" font-size="11" fill="#333" text-anchor="middle">15</text>
<text x="642.5" y="991" font-size="11" fill="#333" text-anchor="middle">Mar</text>
<text x="717.5" y="991" font-size="11" fill="#333" text-anchor="middle">15</text>
<text x="809.5" y="991" font-size="11" fill="#333" text-anchor="middle">Apr</text>
<text x="890.5" y="991" font-size="11" fill="#333" text-anchor="middle">16</text>
<text x="971.5" y="991" font-size="11" fill="#333" text-anchor="middle">May</text>
<text x="1047.5" y="991" font-size="11" fill="#333" text-anchor="middle">15</text>
<text x="1139.5" y="991" font-size="11" fill="#333" text-anchor="middle">Jun</text>
<text x="1214.5" y="991" font-size="11" fill="#333" text-anchor="middle">15</text>
<text x="491.5" y="991" font-size="11" fill="#333" text-anchor="middle">Feb</text>
<rect x="486" y="977" width="64" height="18" fill="#575757"/><rect x="518" y="977" width="1" height="3" fill="#e0e0e0"/>
<text x="518" y="991" font-size="11.5" fill="#fff" text-anchor="middle" textLength="56" lengthAdjust="spacingAndGlyphs">2018-02-06</text>
<text x="26.5" y="1010" font-size="11.5" fill="#858585" stroke="#858585" stroke-width="0.3" text-anchor="middle">1d</text>
<text x="65" y="1010" font-size="11.5" fill="#858585" stroke="#858585" stroke-width="0.3" text-anchor="middle">5d</text>
<text x="105" y="1010" font-size="11.5" fill="#858585" stroke="#858585" stroke-width="0.3" text-anchor="middle">1m</text>
<text x="146" y="1010" font-size="11.5" fill="#858585" stroke="#858585" stroke-width="0.3" text-anchor="middle">3m</text>
<text x="186.5" y="1010" font-size="11.5" fill="#858585" stroke="#858585" stroke-width="0.3" text-anchor="middle">6m</text>
<text x="231.5" y="1010" font-size="11.5" fill="#858585" stroke="#858585" stroke-width="0.3" text-anchor="middle">YTD</text>
<text x="275" y="1010" font-size="11.5" fill="#858585" stroke="#858585" stroke-width="0.3" text-anchor="middle">1y</text>
<text x="314" y="1010" font-size="11.5" fill="#858585" stroke="#858585" stroke-width="0.3" text-anchor="middle">5y</text>
<text x="353.5" y="1010" font-size="11.5" fill="#858585" stroke="#858585" stroke-width="0.3" text-anchor="middle">All</text>
<text x="406" y="1010" font-size="11.5" fill="#858585" stroke="#858585" stroke-width="0.3" text-anchor="middle">Go to...</text>
<rect x="45" y="999" width="1" height="14" fill="#b4b4b4"/>
<rect x="84" y="999" width="1" height="14" fill="#b4b4b4"/>
<rect x="125" y="999" width="1" height="14" fill="#b4b4b4"/>
<rect x="166" y="999" width="1" height="14" fill="#b4b4b4"/>
<rect x="207" y="999" width="1" height="14" fill="#b4b4b4"/>
<rect x="255" y="999" width="1" height="14" fill="#b4b4b4"/>
<rect x="294" y="999" width="1" height="14" fill="#b4b4b4"/>
<rect x="333" y="999" width="1" height="14" fill="#b4b4b4"/>
<rect x="373" y="999" width="1" height="14" fill="#b4b4b4"/>
<text x="962" y="1010" font-size="11.5" fill="#8a8a8a"><tspan font-weight="bold">22:19:24</tspan> (UTC+3)</text>
<rect x="1062" y="999" width="1" height="14" fill="#b4b4b4"/>
<rect x="1106" y="999" width="1" height="14" fill="#b4b4b4"/>
<rect x="1140" y="999" width="1" height="14" fill="#b4b4b4"/>
<rect x="1182" y="999" width="1" height="14" fill="#b4b4b4"/>
<rect x="1232" y="999" width="1" height="14" fill="#b4b4b4"/>
<text x="1085" y="1010" font-size="11.5" fill="#858585" stroke="#858585" stroke-width="0.3" text-anchor="middle">ext</text>
<text x="1124" y="1010" font-size="11.5" fill="#858585" stroke="#858585" stroke-width="0.3" text-anchor="middle">%</text>
<text x="1161" y="1010" font-size="11.5" fill="#858585" stroke="#858585" stroke-width="0.3" text-anchor="middle">log</text>
<text x="1208" y="1010" font-size="11.5" fill="#4eb6e0" stroke="#4eb6e0" stroke-width="0.3" text-anchor="middle">auto</text>
<g transform="translate(1253,1006.2)" fill="#808080"><circle r="3.9" fill="none" stroke="#808080" stroke-width="1.9"/><rect x="-1.1" y="-6.2" width="2.2" height="2.6" transform="rotate(0)"/><rect x="-1.1" y="-6.2" width="2.2" height="2.6" transform="rotate(45)"/><rect x="-1.1" y="-6.2" width="2.2" height="2.6" transform="rotate(90)"/><rect x="-1.1" y="-6.2" width="2.2" height="2.6" transform="rotate(135)"/><rect x="-1.1" y="-6.2" width="2.2" height="2.6" transform="rotate(180)"/><rect x="-1.1" y="-6.2" width="2.2" height="2.6" transform="rotate(225)"/><rect x="-1.1" y="-6.2" width="2.2" height="2.6" transform="rotate(270)"/><rect x="-1.1" y="-6.2" width="2.2" height="2.6" transform="rotate(315)"/></g>
<rect x="12.5" y="20.5" width="12" height="11" rx="1.5" fill="none" stroke="#6a6a6a" stroke-width="1"/>
<path d="M18.5,22.5 V29.5 M14.5,26 H22.5" stroke="#6a6a6a" stroke-width="1" shape-rendering="crispEdges"/>
<text x="31.5" y="31.9" font-size="15.5" fill="#555" textLength="9" lengthAdjust="spacingAndGlyphs">O</text>
<text x="43.7" y="31.9" font-size="15.5" fill="#2a6250" textLength="44.3" lengthAdjust="spacingAndGlyphs">124.97</text>
<text x="99.5" y="31.9" font-size="15.5" fill="#555" textLength="8.8" lengthAdjust="spacingAndGlyphs">H</text>
<text x="112.2" y="31.9" font-size="15.5" fill="#2a6250" textLength="44.4" lengthAdjust="spacingAndGlyphs">147.95</text>
<text x="168.2" y="31.9" font-size="15.5" fill="#555" textLength="6.8" lengthAdjust="spacingAndGlyphs">L</text>
<text x="177.9" y="31.9" font-size="15.5" fill="#2a6250" textLength="44.9" lengthAdjust="spacingAndGlyphs">104.24</text>
<text x="233.6" y="31.9" font-size="15.5" fill="#555" textLength="8.4" lengthAdjust="spacingAndGlyphs">C</text>
<text x="245.8" y="31.9" font-size="15.5" fill="#2a6250" textLength="44.3" lengthAdjust="spacingAndGlyphs">141.50</text>
<rect x="1209" y="34" width="14" height="14" fill="#6a9be0"/>
<g fill="#fff"><rect x="1215.2" y="36" width="1.8" height="2.4"/><polygon points="1213.1,38.2 1219.1,38.2 1216.1,41"/><polygon points="1216.1,41.6 1213.2,44.5 1219,44.5"/><rect x="1215.2" y="44.4" width="1.8" height="2.5"/></g>
<path d="M581.5,0 H706 V15 Q706,18.5 702.5,18.5 H585 Q581.5,18.5 581.5,15 Z" fill="#f5f6f8" fill-opacity="0.9" stroke="#d8dadd" stroke-width="1"/>
<text x="586.2" y="12.8" font-size="11" fill="#a0a5ad" textLength="113" lengthAdjust="spacingAndGlyphs">Exit Full Screen (ESC)</text>
</svg></body></html>
